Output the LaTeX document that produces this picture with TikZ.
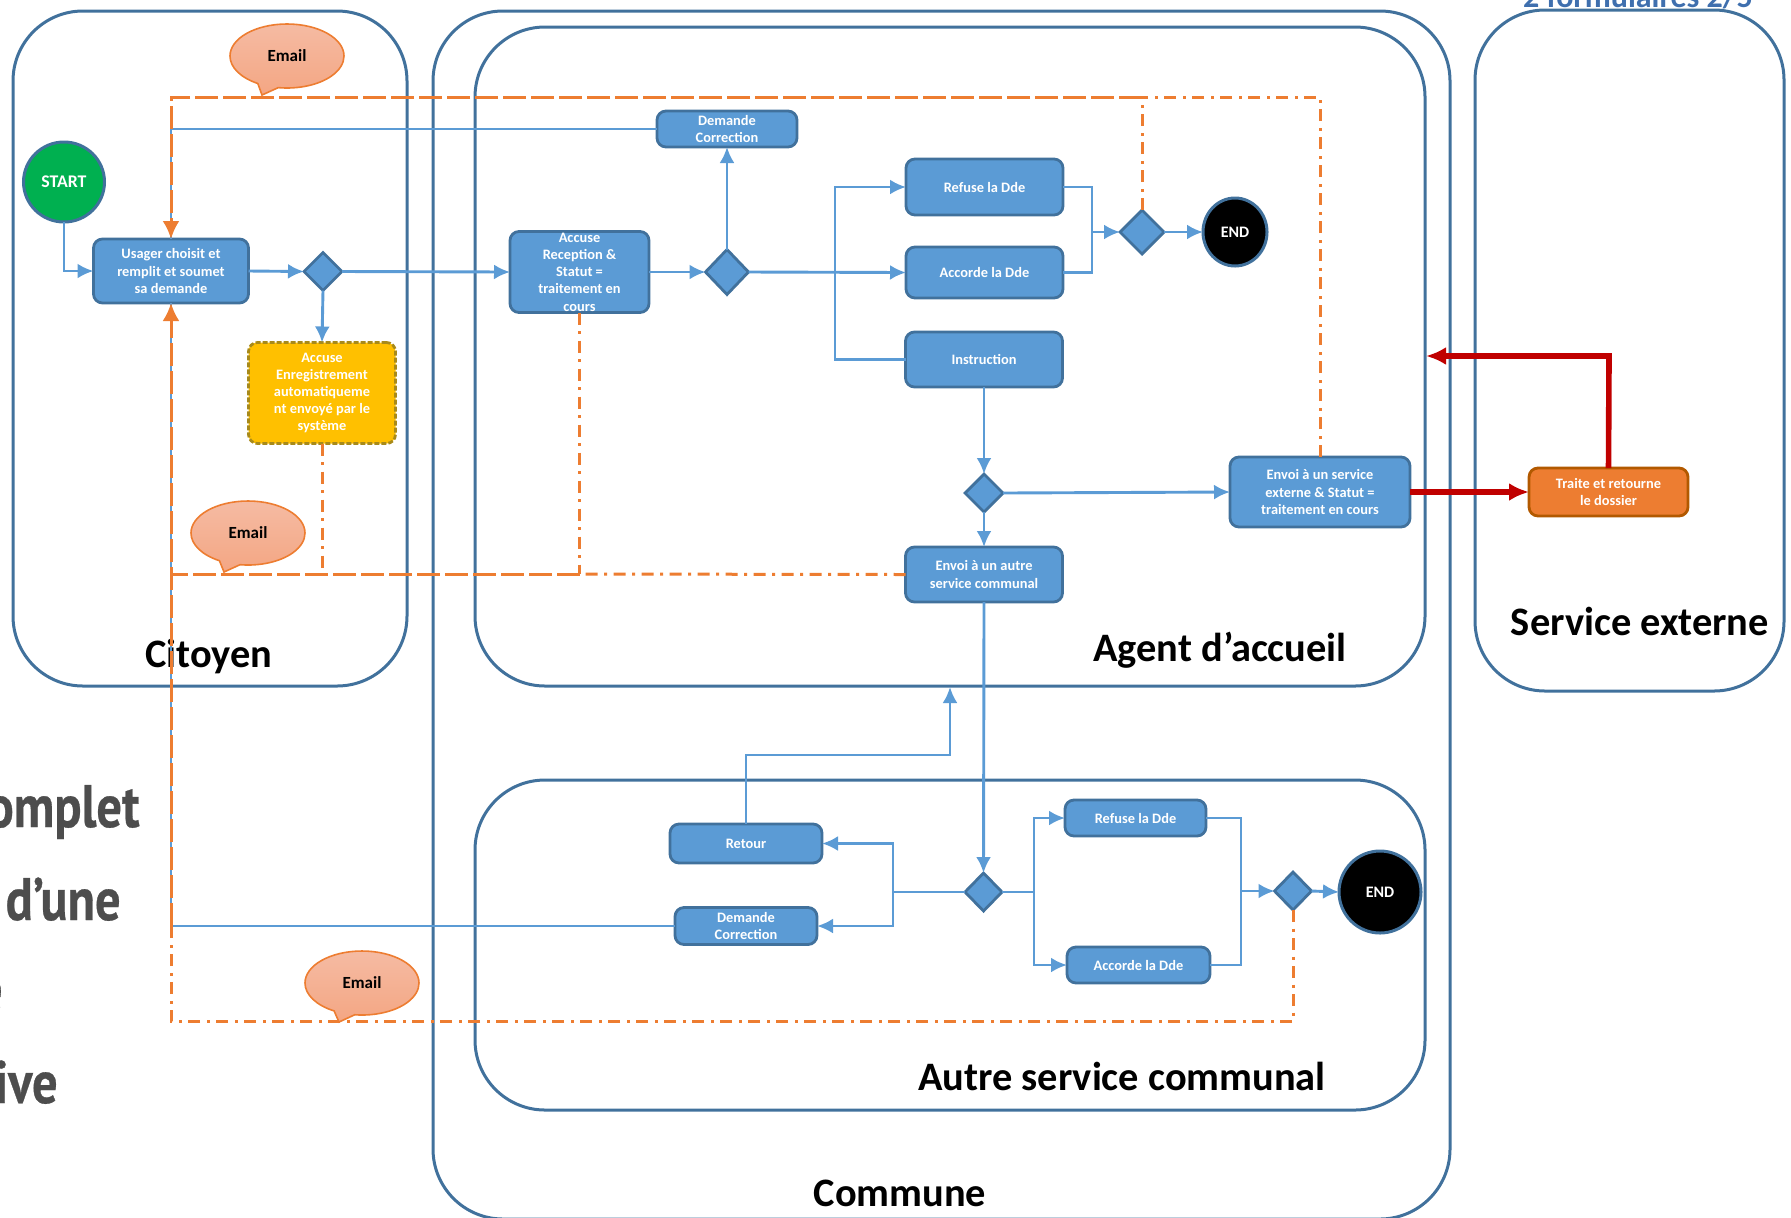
\documentclass[tikz,border=0pt]{standalone}
\usepackage{fontspec}
\setmainfont{Carlito}
\newfontfamily\leftfont[FakeStretch=0.84,FakeBold=0.5]{PT Sans}
\usetikzlibrary{shapes.geometric,shapes.callouts,arrows.meta}
\definecolor{frameblue}{HTML}{41719C}
\definecolor{boxblue}{HTML}{5B9BD5}
\definecolor{lineblue}{HTML}{5B9BD5}
\definecolor{orangeline}{HTML}{ED7D31}
\definecolor{redline}{HTML}{C00000}
\definecolor{titleblue}{HTML}{3F6FAE}
\definecolor{greytext}{HTML}{4D4D4D}
\definecolor{startgreen}{HTML}{00B050}
\definecolor{yellowfill}{HTML}{FFC000}
\definecolor{yellowedge}{HTML}{A88A1A}
\definecolor{mailtop}{HTML}{F5BBA3}
\definecolor{mailbot}{HTML}{F4A683}
\tikzset{
  regionbox/.style={draw=frameblue,line width=1.5pt,rounded corners=35pt,anchor=north west,inner sep=0pt,outer sep=0pt},
  procbox/.style={draw=frameblue,fill=boxblue,line width=1.4pt,rounded corners=4.5pt,align=center,text=white,font=\bfseries\fontsize{7.2}{8.6}\selectfont,inner sep=0pt,outer sep=0pt},
  yellowbox/.style={procbox,draw=yellowedge,fill=yellowfill,dash pattern=on 2.5pt off 1pt},
  gate/.style={diamond,draw=frameblue,fill=boxblue,line width=1.4pt,inner sep=0pt,outer sep=0pt},
  terminal/.style={ellipse,draw=frameblue,line width=1.5pt,text=white,font=\bfseries\fontsize{8}{9}\selectfont,inner sep=0pt,outer sep=0pt},
  flow/.style={draw=lineblue,line width=1.45pt,-{Latex[length=8pt,width=7.5pt]}},
  plainflow/.style={draw=lineblue,line width=1.45pt},
  notedash/.style={draw=orangeline,line width=1.5pt,dash pattern=on 6pt off 3.25pt on 1.5pt off 3.25pt},
  noteline/.style={draw=orangeline,line width=1.5pt,dash pattern=on 11.5pt off 2.5pt},
  notehead/.style={-{Latex[length=9pt,width=8.5pt]}},
  hotflow/.style={draw=redline,line width=2.8pt,-{Latex[length=10pt,width=9pt]}},
  emailbub/.style={ellipse callout,draw=orangeline,line width=0.8pt,top color=mailtop,bottom color=mailbot,minimum width=57pt,minimum height=32pt,inner sep=0pt,outer sep=0pt,callout pointer arc=22,font=\bfseries\fontsize{8.5}{9}\selectfont},
  heading/.style={font=\bfseries\fontsize{20.2}{22}\selectfont,anchor=base,inner sep=0pt},
  cuttext/.style={font=\leftfont\bfseries\fontsize{30}{32}\selectfont,text=greytext,anchor=base east,inner sep=0pt},
}
\begin{document}
\begin{tikzpicture}[x=0.5pt,y=-0.5pt]
\useasboundingbox (0,0) rectangle (1791,1217);
\clip (0,0) rectangle (1791,1217);

% cut-off texts
\node[cuttext] (t1) at (140,827) {omplet};
\node[cuttext] (t2) at (121,920) {d’une};
\node[cuttext] (t3) at (3,1010) {e};
\node[cuttext] (t4) at (58,1103) {ive};
\node[font=\bfseries\fontsize{16}{17}\selectfont,text=titleblue,anchor=base,inner sep=0pt] (t5) at (1638,7) {2 formulaires 2/5};

% regions
\node[regionbox,minimum width=197pt,minimum height=337.5pt] (citoyen) at (13,11) {};
\node[regionbox,minimum width=508.5pt,minimum height=604pt] (commune) at (433,11) {};
\node[regionbox,minimum width=475pt,minimum height=329.5pt] (agent) at (475,27) {};
\node[regionbox,minimum width=475pt,minimum height=165pt] (autre) at (475,780) {};
\node[regionbox,minimum width=154.5pt,minimum height=340.5pt] (externe) at (1475,10) {};

% headings
\node[heading] (h1) at (209,667) {Citoyen};
\node[heading] (h2) at (1220,661) {Agent d’accueil};
\node[heading] (h3) at (1122,1090) {Autre service communal};
\node[heading] (h4) at (1640,635) {Service externe};
\node[heading] (h5) at (900,1206) {Commune};

% nodes
\node[terminal,fill=startgreen,font=\bfseries\fontsize{8.9}{9}\selectfont,minimum width=40.5pt,minimum height=40pt] (start) at (64,182) {START};
\node[procbox,minimum width=77.5pt,minimum height=32pt] (usager) at (171,271) {Usager choisit et\\remplit et soumet\\sa demande};
\node[gate,minimum width=19pt,minimum height=19pt] (d1) at (323,271.5) {};
\node[yellowbox,minimum width=73.5pt,minimum height=50.5pt] (accen) at (322,393) {Accuse\\Enregistrement\\automatiqueme\\nt envoyé par le\\système};
\node[procbox,minimum width=69.5pt,minimum height=40.5pt] (accre) at (579.5,272) {Accuse\\Reception \&\\Statut =\\traitement en\\cours};
\node[gate,minimum width=21.5pt,minimum height=22.5pt] (d2) at (727,272) {};
\node[procbox,minimum width=70pt,minimum height=18pt] (dc1) at (727,129) {Demande\\Correction};
\node[procbox,minimum width=78.5pt,minimum height=28pt] (refuse1) at (984.5,187) {Refuse la Dde};
\node[procbox,minimum width=78.5pt,minimum height=25.5pt] (accorde1) at (984.5,272.5) {Accorde la Dde};
\node[procbox,minimum width=78.5pt,minimum height=27.5pt] (instr) at (984,359.5) {Instruction};
\node[gate,minimum width=22pt,minimum height=22pt] (d3) at (1142,232) {};
\node[terminal,fill=black,minimum width=32pt,minimum height=34pt] (end1) at (1235,232) {END};
\node[gate,minimum width=19pt,minimum height=19pt] (d4) at (984,493) {};
\node[procbox,minimum width=90pt,minimum height=35pt] (envext) at (1320,492) {Envoi à un service\\externe \& Statut =\\traitement en cours};
\node[procbox,minimum width=78.5pt,minimum height=27.5pt] (envaut) at (984,574.5) {Envoi à un autre\\service communal};
\node[procbox,draw=orange!70!black,fill=orangeline,minimum width=79.5pt,minimum height=24pt] (traite) at (1608.5,492) {Traite et retourne\\le dossier};
\node[procbox,minimum width=76pt,minimum height=19.5pt] (retour) at (746,843.5) {Retour};
\node[procbox,minimum width=71pt,minimum height=18.5pt] (dc2) at (746,926) {Demande\\Correction};
\node[gate,minimum width=18.5pt,minimum height=19pt] (d5) at (983.5,892) {};
\node[procbox,minimum width=70.5pt,minimum height=18pt] (refuse2) at (1135.5,818) {Refuse la Dde};
\node[procbox,minimum width=71.5pt,minimum height=18pt] (accorde2) at (1138.5,965) {Accorde la Dde};
\node[gate,minimum width=18.5pt,minimum height=19pt] (d6) at (1293,891) {};
\node[terminal,fill=black,minimum width=41pt,minimum height=41pt] (end2) at (1380,892) {END};

% named bends
\coordinate (cTop) at (171,97);
\coordinate (cD3) at (1142,97);
\coordinate (cExt) at (1320,97);
\coordinate (cLow) at (171,574);
\coordinate (cYel) at (322,574);
\coordinate (cAcc) at (579.5,574);
\coordinate (cBot) at (171,1021);
\coordinate (cD6) at (1293,1021);
\coordinate (cMix) at (171,926);
\coordinate (cDc1) at (171,129);
\coordinate (cBranch) at (835,272);
\coordinate (cUp) at (950,687);
\coordinate (cRet) at (950,755);
\coordinate (cRetL) at (746,755);
\coordinate (cRetIn) at (1609,356);
\coordinate (cAgentE) at (1426,356);
\coordinate (cJoin1) at (1092,232);
\coordinate (cJoin2) at (1241,891);
\coordinate (cLeft) at (893,892);
\coordinate (cRight) at (1034,892);

% blue connectors
\draw[flow] (start.south) |- (usager.west);
\draw[flow] (usager.east) -- (d1.west);
\draw[flow] (d1.east) -- (accre.west);
\draw[flow] (d1.south) -- (accen.north);
\draw[flow] (accre.east) -- (d2.west);
\draw[flow] (d2.north) -- (dc1.south);
\draw[flow] (d2.east) -- (accorde1.west);
\draw[flow] (cBranch) |- (refuse1.west);
\draw[plainflow] (cBranch) |- (instr.west);
\draw[plainflow] (refuse1.east) -| (cJoin1);
\draw[plainflow] (accorde1.east) -| (cJoin1);
\draw[flow] (cJoin1) -- (d3.west);
\draw[flow] (d3.east) -- (end1.west);
\draw[flow] (instr.south) -- (d4.north);
\draw[flow] (d4.east) -- (envext.west);
\draw[flow] (d4.south) -- (envaut.north);
\draw[flow] (envaut.south) -- (d5.north);
\draw[plainflow] (d5.west) -- (cLeft);
\draw[flow] (cLeft) |- (retour.east);
\draw[flow] (cLeft) |- (dc2.east);
\draw[plainflow] (d5.east) -- (cRight);
\draw[flow] (cRight) |- (refuse2.west);
\draw[flow] (cRight) |- (accorde2.west);
\draw[plainflow] (refuse2.east) -| (cJoin2);
\draw[plainflow] (accorde2.east) -| (cJoin2);
\draw[flow] (cJoin2) -- (d6.west);
\draw[flow] (d6.east) -- (end2.west);
\draw[flow] (retour.north) -- (cRetL) -- (cRet) -- (cUp);
\draw[plainflow] (dc1.west) -- (cDc1);
\draw[plainflow] (dc2.west) -- (cMix) -- (usager.south);
\draw[plainflow] (cDc1) -- (usager.north);

% orange notification lines
\draw[noteline,notehead] (cD3) -- (cTop) -- (usager.north);
\draw[notedash] (d3.north) -- (cD3);
\draw[notedash] (envext.north) -- (cExt) -- (cD3);
\draw[notedash] (accen.south) -- (cYel);
\draw[notedash] (accre.south) -- (cAcc);
\draw[notedash] (envaut.west) -- (cAcc);
\draw[noteline] (cAcc) -- (cLow);
\draw[noteline,notehead] (cMix) -- (usager.south);
\draw[notedash] (d6.south) -- (cD6) -- (cBot) -- (cMix);

% red
\draw[hotflow] (envext.east) -- (traite.west);
\draw[hotflow] (traite.north) -- (cRetIn) -- (cAgentE);

% emails
\node[emailbub,callout absolute pointer={(262,95)}] (m1) at (287,56) {Email};
\node[emailbub,callout absolute pointer={(224,572)}] (m2) at (248,533) {Email};
\node[emailbub,callout absolute pointer={(339,1022)}] (m3) at (362,983) {Email};
\end{tikzpicture}
\end{document}
